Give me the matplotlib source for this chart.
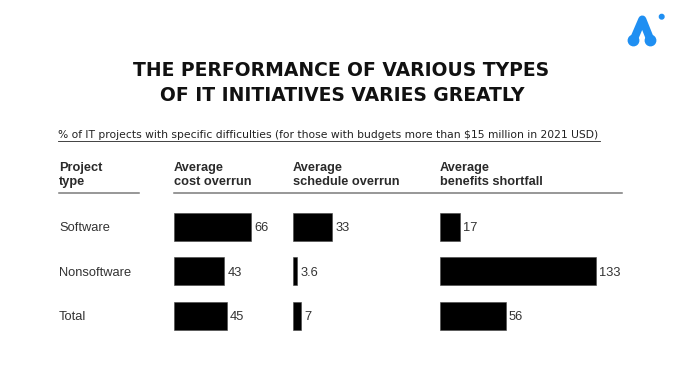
import matplotlib.pyplot as plt
import matplotlib.transforms as mtransforms
from matplotlib.lines import Line2D
from matplotlib.patches import Circle

# data
projects = ['Software', 'Nonsoftware', 'Total']
cost_overrun = [66, 43, 45]
schedule_overrun = [33, 3.6, 7]
benefits_shortfall = [17, 133, 56]
header_top = ['Project', 'Average', 'Average', 'Average']
header_bottom = ['type', 'cost overrun', 'schedule overrun', 'benefits shortfall']

title_lines = ['THE PERFORMANCE OF VARIOUS TYPES', 'OF IT INITIATIVES VARIES GREATLY']
subtitle = '% of IT projects with specific difficulties (for those with budgets more than $15 million in 2021 USD)'

W, H = 680, 388
PX_PER_UNIT = 1.17   # bar length scale, same for all three panels


def fx(x):
    return x / W


def fy(y):
    return 1 - y / H


fig = plt.figure(figsize=(6.8, 3.88), dpi=100)
fig.patch.set_facecolor('white')

body_font = 'Liberation Sans'
grey_txt = '#333333'

# title
fig.text(fx(341.5), fy(76.5), title_lines[0], ha='center', va='baseline',
         fontsize=13.5, fontweight='bold', family='DejaVu Sans', color='#111111')
fig.text(fx(342.5), fy(101), title_lines[1], ha='center', va='baseline',
         fontsize=13.5, fontweight='bold', family='DejaVu Sans', color='#111111')

# underlined subtitle
fig.text(fx(58), fy(138), subtitle, ha='left', va='baseline',
         fontsize=7.75, family='DejaVu Sans', color='#222222')
fig.add_artist(Line2D([fx(58), fx(600)], [fy(140.8), fy(140.8)],
                      transform=fig.transFigure, color='#222222', lw=0.6))

# column headers
header_x = [59, 174, 293, 440]
for x, top, bottom in zip(header_x, header_top, header_bottom):
    fig.text(fx(x), fy(170.5), top, ha='left', va='baseline', fontsize=9.2,
             fontweight='bold', family=body_font, color='#2a2a2a')
    fig.text(fx(x), fy(185), bottom, ha='left', va='baseline', fontsize=9.2,
             fontweight='bold', family=body_font, color='#2a2a2a')

# rules under the headers
fig.add_artist(Line2D([fx(59), fx(139)], [fy(193.3), fy(193.3)],
                      transform=fig.transFigure, color='#7a7a7a', lw=1.1))
fig.add_artist(Line2D([fx(174), fx(622)], [fy(193.3), fy(193.3)],
                      transform=fig.transFigure, color='#7a7a7a', lw=1.1))

# the three bar panels
panels = [(174, 110, cost_overrun), (293, 140, schedule_overrun), (440, 230, benefits_shortfall)]
axes = []
for left, width, vals in panels:
    ax = fig.add_axes([fx(left), fy(338), width / W, 133.5 / H])
    ax.barh(range(len(vals)), vals, height=0.62, color='black', edgecolor='#444444', linewidth=0.4)
    ax.set_xlim(0, width / PX_PER_UNIT)
    ax.set_ylim(len(vals) - 0.5, -0.5)
    ax.axis('off')
    for i, v in enumerate(vals):
        ax.annotate(f'{v:g}', (v, i), xytext=(2.5, 0), textcoords='offset points',
                    ha='left', va='center_baseline', fontsize=9.3, family=body_font, color=grey_txt)
    axes.append(ax)

# row labels, y from the first panel's data coordinates
trans = mtransforms.blended_transform_factory(fig.transFigure, axes[0].transData)
for i, name in enumerate(projects):
    fig.text(fx(59), i, name, transform=trans, ha='left', va='center_baseline',
             fontsize=9.3, family=body_font, color=grey_txt)

# logo in the top right corner
blue = '#1f8ff2'
fig.add_artist(Line2D([fx(633.5), fx(642.3), fx(650.5)], [fy(40), fy(19.5), fy(40)],
                      transform=fig.transFigure, color=blue, lw=5.8,
                      solid_capstyle='round', solid_joinstyle='round'))
for cx in (633.5, 650.5):
    fig.add_artist(Circle((cx, H - 40.5), 5.2, transform=mtransforms.IdentityTransform(),
                          color=blue))
fig.add_artist(Circle((661.7, H - 16.7), 2.3, transform=mtransforms.IdentityTransform(), color=blue))

fig.savefig('out.png', dpi=100, facecolor='white')
